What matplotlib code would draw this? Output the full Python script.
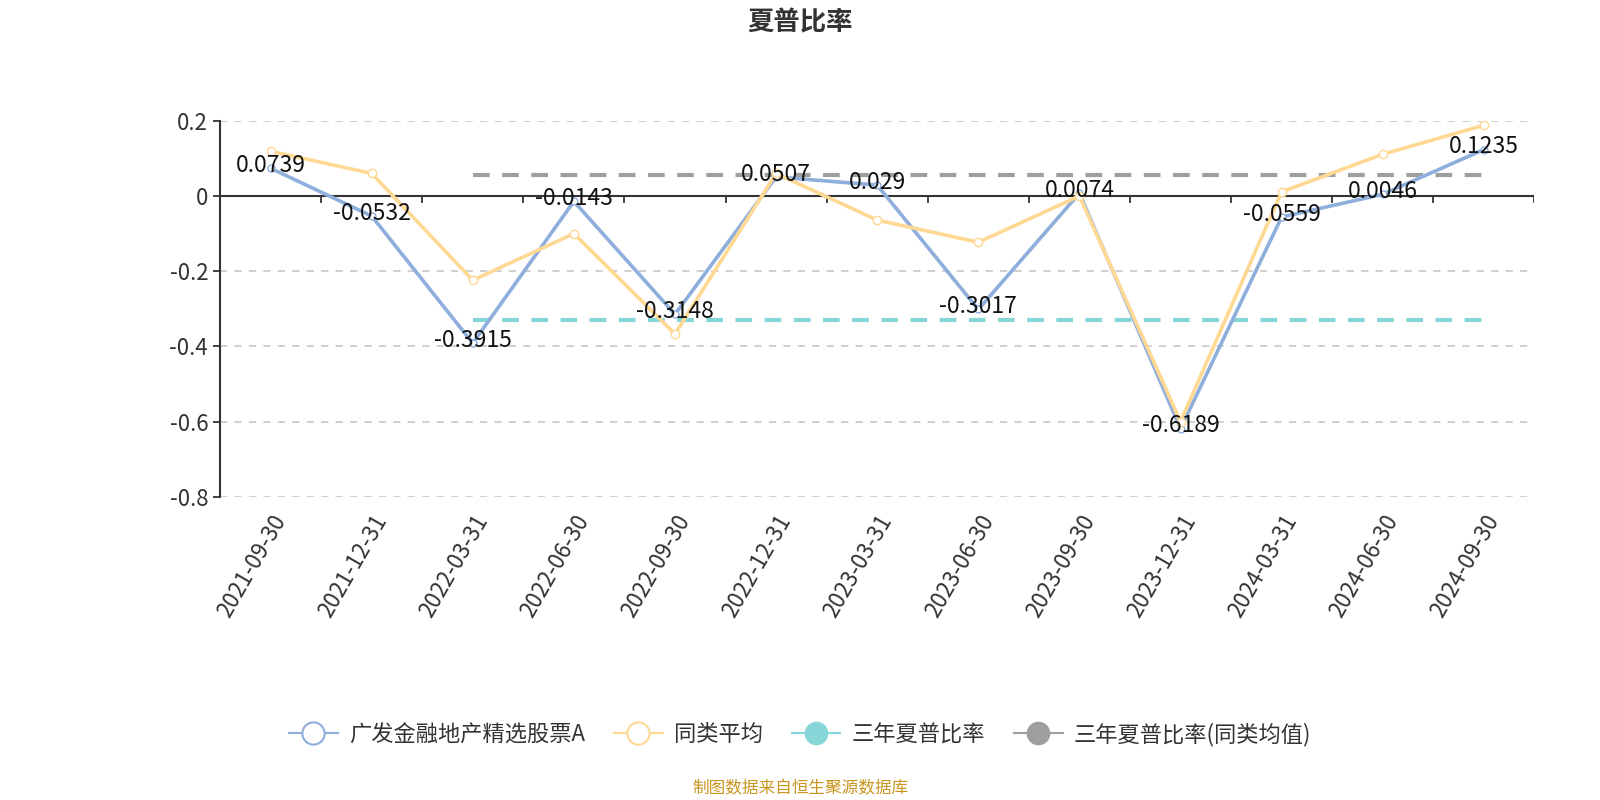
import matplotlib
matplotlib.use('Agg')
from matplotlib import pyplot as plt
from matplotlib.lines import Line2D
import numpy as np

plt.rcParams['font.family'] = ['Noto Sans CJK SC', 'DejaVu Sans']
plt.rcParams['axes.unicode_minus'] = False

# 数据
dates = ['2021-09-30', '2021-12-31', '2022-03-31', '2022-06-30', '2022-09-30',
         '2022-12-31', '2023-03-31', '2023-06-30', '2023-09-30', '2023-12-31',
         '2024-03-31', '2024-06-30', '2024-09-30']
fund = [0.0739, -0.0532, -0.3915, -0.0143, -0.3148, 0.0507, 0.029, -0.3017,
        0.0074, -0.6189, -0.0559, 0.0046, 0.1235]
peer = [0.119, 0.060, -0.224, -0.100, -0.367, 0.060, -0.064, -0.123,
        0.000, -0.600, 0.011, 0.111, 0.188]
sharpe_3y = -0.330
sharpe_3y_peer = 0.057
line_start = 2  # 三年线从2022-03-31开始

c_fund = '#8eaedc'
c_peer = '#ffd993'
c_teal = '#86d6d8'
c_gray = '#9e9e9e'

fig = plt.figure(figsize=(16, 8), dpi=100)
ax = fig.add_axes([0.1375, 0.379, 0.8215, 0.470])

x = np.arange(len(dates))

# 网格
for v in [-0.8, -0.6, -0.4, -0.2, 0.2]:
    ax.axhline(v, color='#cccccc', lw=1.3, ls=(0, (4, 4)), zorder=0)
ax.axhline(0, color='#333333', lw=1.5, zorder=1)
# 零轴上的刻度（类目之间）
for b in np.arange(-0.5, len(dates), 1.0):
    ax.plot([b, b], [0, -0.016], color='#333333', lw=1.3, zorder=1)

xs = x[line_start:]
ax.plot(xs, [sharpe_3y] * len(xs), color=c_teal, lw=3, ls=(0, (4, 3)), zorder=2)
ax.plot(xs, [sharpe_3y_peer] * len(xs), color=c_gray, lw=3, ls=(0, (4, 3)), zorder=2)

ax.plot(x, fund, color=c_fund, lw=2.6, marker='o', markersize=5,
        markerfacecolor='white', markeredgecolor=c_fund, zorder=3)
ax.plot(x, peer, color=c_peer, lw=2.6, marker='o', markersize=6,
        markerfacecolor='white', markeredgecolor=c_peer, zorder=4)

for xi, v in zip(x, fund):
    ax.annotate(f'{v:g}', (xi, v), xytext=(0, 2), textcoords='offset points',
                ha='center', va='center', fontsize=16.5, color='#111111', zorder=5)

ax.set_xlim(-0.5, len(dates) - 0.5)
ax.set_ylim(-0.8, 0.2)
ax.set_yticks([-0.8, -0.6, -0.4, -0.2, 0, 0.2])
ax.set_yticklabels(['-0.8', '-0.6', '-0.4', '-0.2', '0', '0.2'])
ax.tick_params(axis='y', labelsize=16, colors='#333333', length=5, width=1.3)
ax.set_xticks(x)
ax.set_xticklabels(dates, rotation=60, ha='right', va='top', rotation_mode='anchor')
ax.tick_params(axis='x', labelsize=16, colors='#333333', length=0, pad=10)

for s in ['top', 'right', 'bottom']:
    ax.spines[s].set_visible(False)
ax.spines['left'].set_color('#333333')
ax.spines['left'].set_linewidth(1.5)

fig.text(0.5, 0.972, '夏普比率', ha='center', va='center', fontsize=19,
         fontweight='bold', color='#333333')

handles = [
    Line2D([], [], color=c_fund, lw=1.5, marker='o', markersize=16,
           markerfacecolor='white', markeredgewidth=1.5),
    Line2D([], [], color=c_peer, lw=1.5, marker='o', markersize=16,
           markerfacecolor='white', markeredgewidth=1.5),
    Line2D([], [], color=c_teal, lw=1.5, marker='o', markersize=16),
    Line2D([], [], color=c_gray, lw=1.5, marker='o', markersize=16),
]
labels = ['广发金融地产精选股票A', '同类平均', '三年夏普比率', '三年夏普比率(同类均值)']
fig.legend(handles, labels, loc='center', bbox_to_anchor=(0.5, 0.082), ncol=4,
           frameon=False, fontsize=16, handlelength=2.2, columnspacing=1.3,
           handletextpad=0.5, labelcolor='#333333')

fig.text(0.5, 0.014, '制图数据来自恒生聚源数据库', ha='center', va='center',
         fontsize=12, color='#c8951e')

fig.savefig('out.png', dpi=100)
